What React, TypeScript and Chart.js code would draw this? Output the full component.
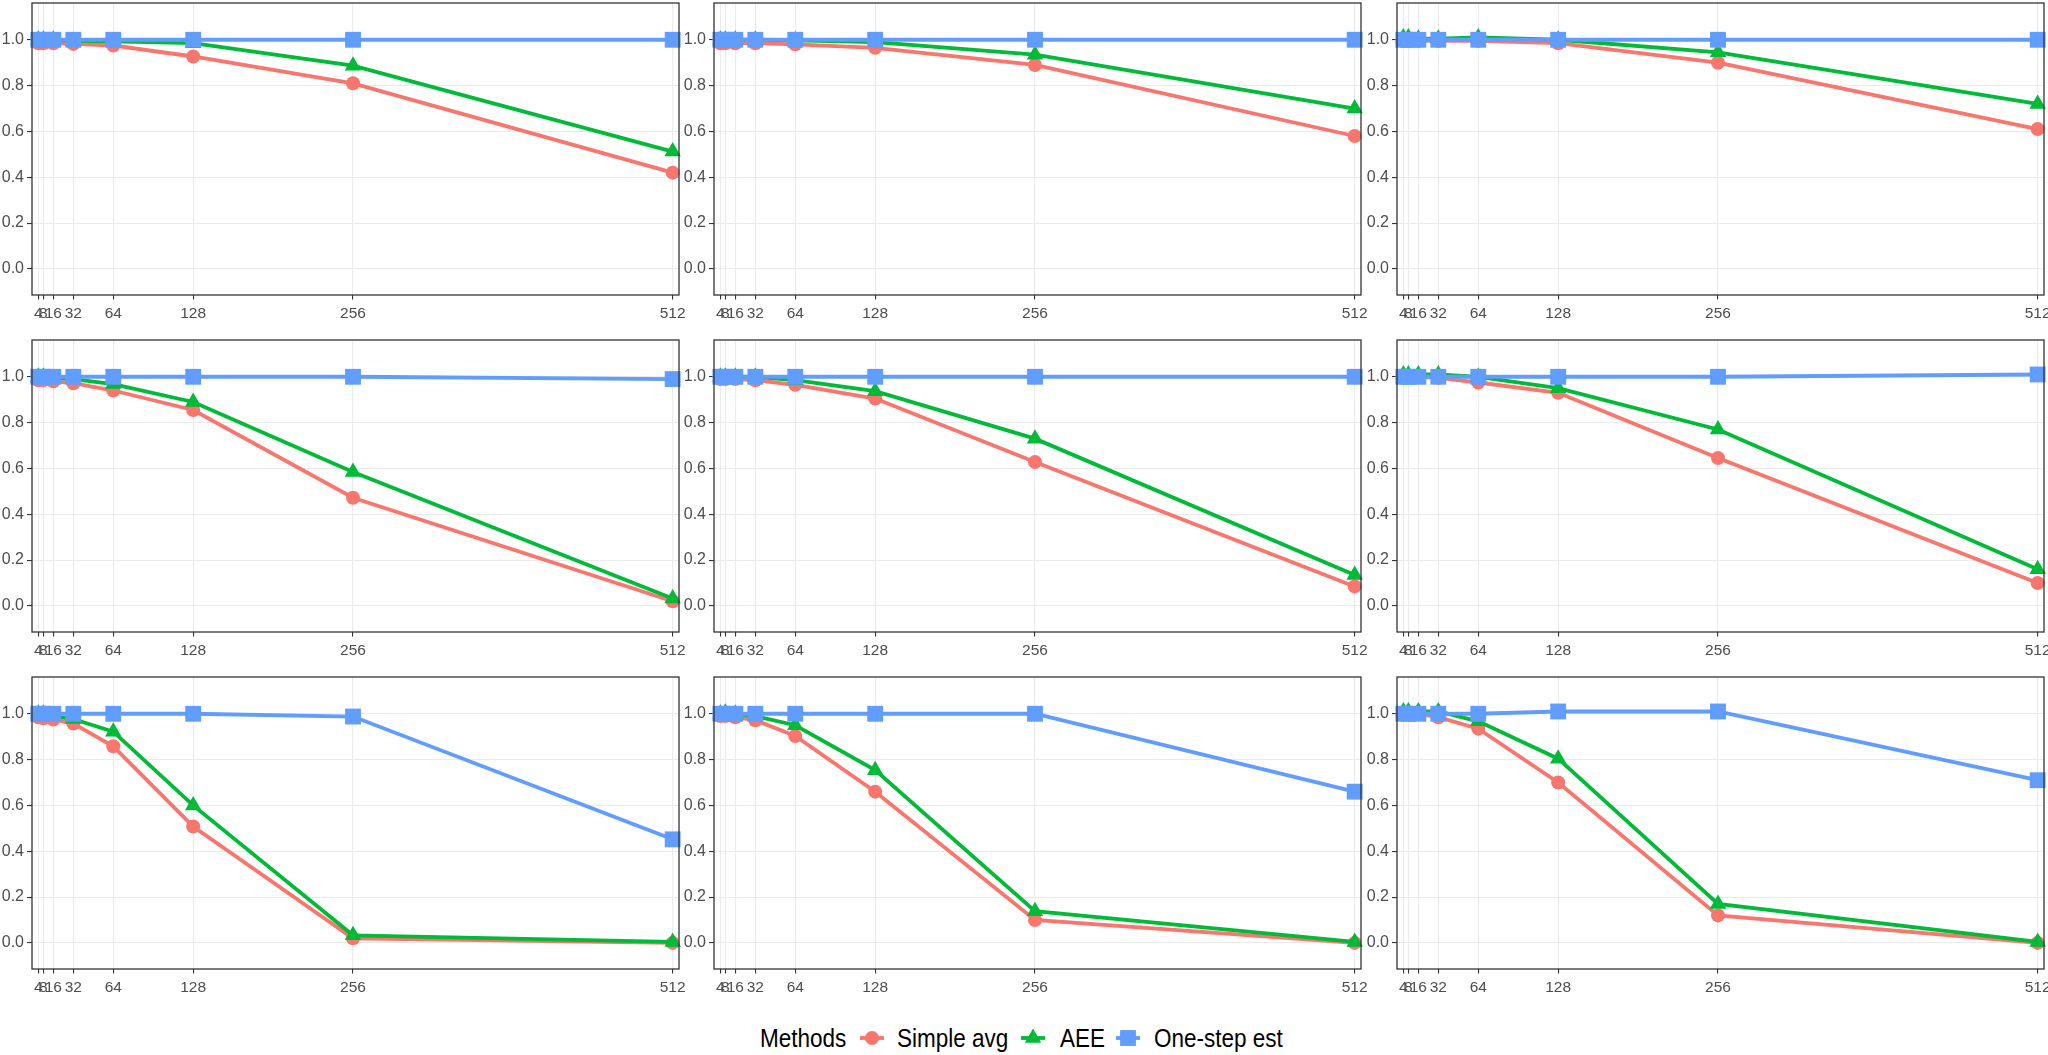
import { Chart, registerables } from "chart.js";
import { useEffect, useRef } from "react";

Chart.register(...registerables);

// x positions shared by every panel
const xValues = [4, 8, 16, 32, 64, 128, 256, 512];
const yTicks = [0, 0.2, 0.4, 0.6, 0.8, 1.0];
const methods = ["Simple avg", "AEE", "One-step est"];

// one row per panel, left to right, top to bottom
const simpleAvg = [
  [0.985, 0.985, 0.985, 0.982, 0.975, 0.927, 0.81, 0.42],
  [0.985, 0.985, 0.985, 0.985, 0.98, 0.965, 0.89, 0.58],
  [0.995, 0.995, 0.995, 0.995, 0.995, 0.985, 0.9, 0.61],
  [0.985, 0.985, 0.98, 0.972, 0.94, 0.855, 0.472, 0.02],
  [0.99, 0.99, 0.99, 0.985, 0.965, 0.905, 0.628, 0.085],
  [1.0, 1.0, 1.0, 0.995, 0.975, 0.93, 0.645, 0.1],
  [0.985, 0.98, 0.975, 0.957, 0.858, 0.508, 0.02, 0.0],
  [0.99, 0.99, 0.985, 0.972, 0.903, 0.66, 0.1, 0.0],
  [1.0, 1.0, 1.0, 0.985, 0.935, 0.7, 0.12, 0.0],
];

const aee = [
  [1.0, 1.0, 1.0, 0.995, 0.993, 0.985, 0.887, 0.512],
  [1.0, 1.0, 1.0, 1.0, 0.998, 0.99, 0.935, 0.7],
  [1.01, 1.01, 1.005, 1.005, 1.01, 1.0, 0.945, 0.72],
  [1.0, 1.0, 0.995, 0.99, 0.968, 0.89, 0.584, 0.032],
  [1.0, 1.0, 1.0, 1.0, 0.985, 0.937, 0.73, 0.135],
  [1.01, 1.01, 1.01, 1.01, 1.0, 0.95, 0.77, 0.16],
  [1.0, 1.0, 0.99, 0.977, 0.922, 0.6, 0.033, 0.004],
  [1.0, 1.005, 1.0, 0.99, 0.95, 0.754, 0.138, 0.004],
  [1.01, 1.01, 1.01, 1.01, 0.967, 0.804, 0.17, 0.004],
];

const oneStep = [
  [1, 1, 1, 1, 1, 1, 1, 1],
  [1, 1, 1, 1, 1, 1, 1, 1],
  [1, 1, 1, 1, 1, 1, 1, 1],
  [1, 1, 1, 1, 1, 1, 1, 0.99],
  [1, 1, 1, 1, 1, 1, 1, 1],
  [1, 1, 1, 1, 1, 1, 1, 1.01],
  [1, 1, 1, 1, 1, 1, 0.988, 0.452],
  [1, 1, 1, 1, 1, 1, 1, 0.66],
  [1, 1, 1, 1, 1, 1.01, 1.01, 0.71],
];

const colors = ["#F8766D", "#00BA38", "#619CFF"];
const shapes = ["circle", "triangle", "rect"];
const radii = [7, 9.5, 11.2];
const LINE_W = 3.8;

const FONT = "Arial, 'Liberation Sans', sans-serif";

const colLeft = [32, 714, 1397];
const rowTop = [3, 340, 677];
const PANEL_W = 647;
const PANEL_H = 292;
const AXIS_W = 32;
const AXIS_H = 36;
const PAD_T = 20;
const PAD_R = 18;
const CANVAS_W = AXIS_W + PANEL_W + PAD_R;
const CANVAS_H = PAD_T + PANEL_H + AXIS_H;

// panel border drawn over the data, like theme_bw
const panelBorder = {
  id: "panelBorder",
  afterDatasetsDraw(chart: any) {
    const { ctx, chartArea: a } = chart;
    ctx.save();
    ctx.strokeStyle = "#333333";
    ctx.lineWidth = 1.3;
    ctx.strokeRect(a.left, a.top, a.right - a.left, a.bottom - a.top);
    ctx.restore();
  },
};

const Panel = ({ index }: { index: number }) => {
  const canvasRef = useRef<HTMLCanvasElement | null>(null);

  useEffect(() => {
    if (!canvasRef.current) return;
    const ctx = canvasRef.current.getContext("2d");
    if (!ctx) return;

    const series = [simpleAvg[index], aee[index], oneStep[index]];

    const chart = new Chart(ctx, {
      type: "line",
      data: {
        datasets: series.map((vals, i) => ({
          label: methods[i],
          data: vals.map((y, j) => ({ x: xValues[j], y })),
          borderColor: colors[i],
          backgroundColor: colors[i],
          borderWidth: LINE_W,
          pointStyle: shapes[i] as any,
          pointRadius: radii[i],
          pointBorderWidth: 0,
          pointBackgroundColor: colors[i],
          tension: 0,
          order: 3 - i,
          clip: false as any,
        })),
      },
      options: {
        animation: false,
        responsive: false,
        events: [],
        layout: {
          autoPadding: false,
          padding: { top: PAD_T, right: PAD_R, left: 0, bottom: 0 },
        },
        plugins: {
          legend: { display: false },
          tooltip: { enabled: false },
        },
        scales: {
          x: {
            type: "linear",
            min: -1.08,
            max: 517.08,
            afterBuildTicks: (s: any) => {
              s.ticks = xValues.map((v) => ({ value: v }));
            },
            afterFit: (s: any) => {
              s.height = AXIS_H;
            },
            ticks: {
              autoSkip: false,
              maxRotation: 0,
              minRotation: 0,
              color: "#4D4D4D",
              font: { family: FONT, size: 15.5 },
              padding: 5,
              callback: (v: any) => String(v),
            },
            grid: {
              color: "#EBEBEB",
              lineWidth: 1.1,
              tickColor: "#333333",
              tickWidth: 1.1,
              tickLength: 4.5,
            },
            border: { display: false },
          },
          y: {
            type: "linear",
            min: -0.114,
            max: 1.1605,
            afterBuildTicks: (s: any) => {
              s.ticks = yTicks.map((v) => ({ value: v }));
            },
            afterFit: (s: any) => {
              s.width = AXIS_W;
            },
            ticks: {
              color: "#4D4D4D",
              font: { family: FONT, size: 16 },
              padding: 3,
              callback: (v: any) => Number(v).toFixed(1),
            },
            grid: {
              color: "#EBEBEB",
              lineWidth: 1.1,
              tickColor: "#333333",
              tickWidth: 1.1,
              tickLength: 5,
            },
            border: { display: false },
          },
        },
      },
      plugins: [panelBorder],
    });

    return () => {
      chart.destroy();
    };
  }, [index]);

  const col = index % 3;
  const row = Math.floor(index / 3);

  return (
    <div
      style={{
        position: "absolute",
        left: colLeft[col] - AXIS_W,
        top: rowTop[row] - PAD_T,
        width: CANVAS_W,
        height: CANVAS_H,
      }}
    >
      <canvas
        ref={canvasRef}
        width={CANVAS_W}
        height={CANVAS_H}
        style={{ width: CANVAS_W, height: CANVAS_H, display: "block" }}
      ></canvas>
    </div>
  );
};

const LegendKey = ({ i }: { i: number }) => {
  const c = colors[i];
  let marker;
  if (i === 0) marker = <circle cx={13} cy={12} r={7} fill={c} />;
  else if (i === 1)
    marker = <polygon points="13,2.5 21.2,16.75 4.8,16.75" fill={c} />;
  else marker = <rect x={5.1} y={4.1} width={15.8} height={15.8} fill={c} />;
  return (
    <svg width={26} height={24} style={{ display: "block" }}>
      <line x1={1} x2={25} y1={12} y2={12} stroke={c} strokeWidth={LINE_W} />
      {marker}
    </svg>
  );
};

const legendText = (text: string, left: number) => (
  <span
    key={text}
    style={{
      position: "absolute",
      left,
      top: 1026,
      fontFamily: FONT,
      fontSize: 25,
      lineHeight: "25px",
      color: "#000000",
      whiteSpace: "nowrap",
      transform: "scaleX(0.9)",
      transformOrigin: "left center",
    }}
  >
    {text}
  </span>
);

const keyCenters = [871.7, 1033, 1127.5];
const textLefts = [897, 1059.6, 1154];

const App = () => {
  return (
    <div
      style={{
        position: "absolute",
        left: 0,
        top: 0,
        width: 2048,
        height: 1055,
        overflow: "hidden",
        background: "#FFFFFF",
      }}
    >
      {Array.from({ length: 9 }, (_, k) => (
        <Panel key={k} index={k} />
      ))}
      {legendText("Methods", 760)}
      {methods.map((m, i) => (
        <div key={m}>
          <div
            style={{ position: "absolute", left: keyCenters[i] - 13, top: 1026 }}
          >
            <LegendKey i={i} />
          </div>
          {legendText(m, textLefts[i])}
        </div>
      ))}
    </div>
  );
};

export default App;
